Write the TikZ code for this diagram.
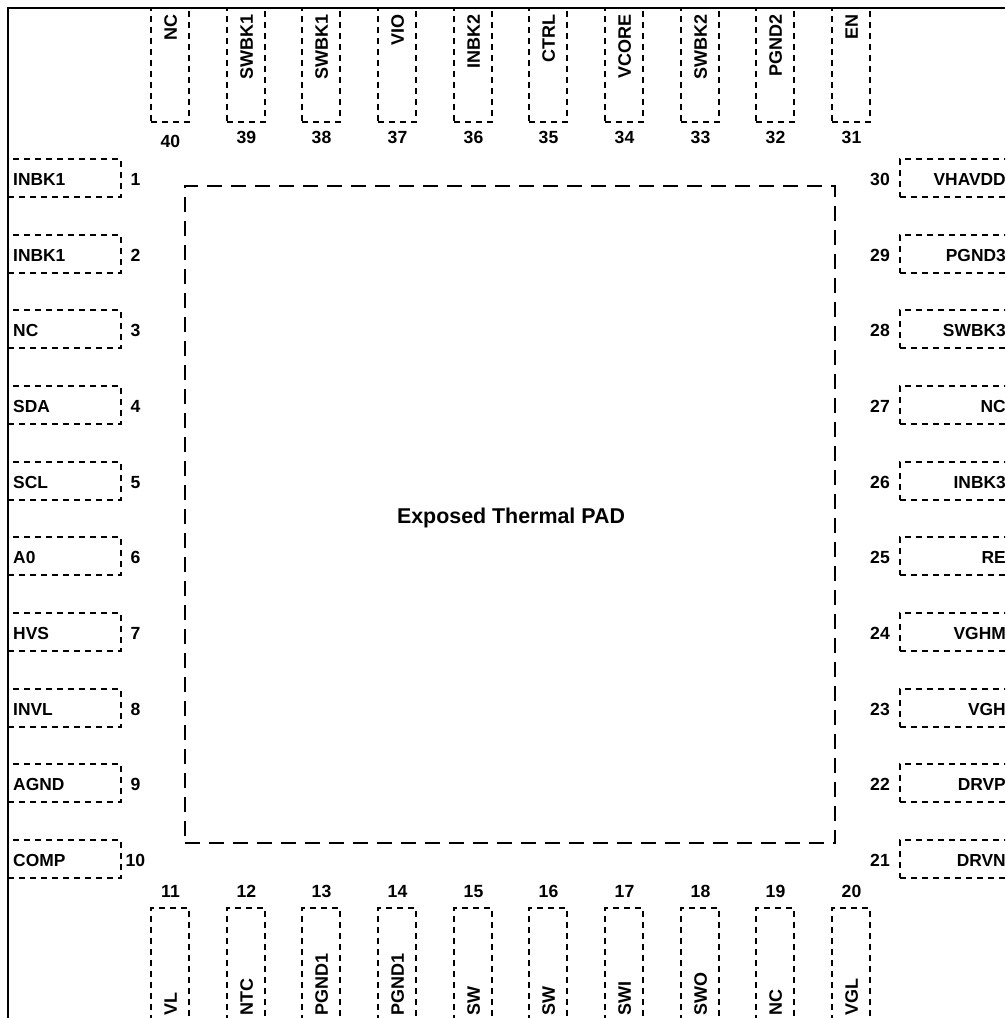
\documentclass[tikz,border=0pt]{standalone}
\usepackage{fontspec}
\setmainfont{Liberation Sans}
\tikzset{
  lab/.style={font=\fontsize{17.4}{20}\selectfont\bfseries,inner sep=0pt,text height=12.4pt,text depth=0pt},
  vlab/.style={font=\fontsize{18}{20}\selectfont\bfseries,inner sep=0pt,text height=12.8pt,text depth=0pt},
  padlab/.style={font=\fontsize{21.4}{24}\selectfont\bfseries,inner sep=0pt,text height=15.3pt,text depth=0pt,anchor=center},
  num/.style={font=\fontsize{17.6}{20}\selectfont\bfseries,inner sep=0pt,text height=12.6pt,text depth=0pt,anchor=center},
  pinbox/.style={draw=black,line width=1.8pt,dash pattern=on 6.2pt off 4.8pt,inner sep=0pt,fill=none},
  hbox/.style={pinbox,minimum width=113pt,minimum height=38pt,outer sep=0pt},
  vbox/.style={pinbox,minimum width=38pt,minimum height=114pt,outer sep=0pt},
  padbox/.style={draw=black,line width=1.8pt,dash pattern=on 15pt off 9pt,inner sep=0pt,outer sep=0pt,minimum width=650pt,minimum height=657pt},
  outer/.style={draw=black,line width=2pt}
}
\begin{document}
\begin{tikzpicture}[x=1pt,y=-1pt]
\useasboundingbox (0,0) rectangle (1005,1018);
\clip (0,0) rectangle (1005,1018);
\fill[white] (0,0) rectangle (1005,1018);
\coordinate (tl) at (8,8);
\coordinate (bl) at (8,1018);
\coordinate (tr) at (1005,8);
\node[padbox] (pad) at (510,514.5) {};
\node[padlab] (padlabel) at (511,516) {Exposed Thermal PAD};
% left pins
\foreach \n/\t [count=\i from 0] in {1/INBK1,2/INBK1,3/NC,4/SDA,5/SCL,6/A0,7/HVS,8/INVL,9/AGND,10/COMP}{
  \pgfmathsetmacro{\yy}{round(178+75.67*\i)}
  \node[hbox] (L\n) at (64.5,\yy) {};
  \node[lab,anchor=west] (Ltext\n) at (13,\yy+1) {\t};
  \node[num] (Lnum\n) at (135.5,\yy+1) {\n};
}
% right pins
\foreach \n/\t [count=\i from 0] in {30/VHAVDD,29/PGND3,28/SWBK3,27/NC,26/INBK3,25/RE,24/VGHM,23/VGH,22/DRVP,21/DRVN}{
  \pgfmathsetmacro{\yy}{round(178+75.67*\i)}
  \node[hbox] (R\n) at (956.5,\yy) {};
  \node[lab,anchor=east] (Rtext\n) at (1006,\yy+1) {\t};
  \node[num] (Rnum\n) at (880,\yy+1) {\n};
}
% top pins
\foreach \n/\t [count=\i from 0] in {40/NC,39/SWBK1,38/SWBK1,37/VIO,36/INBK2,35/CTRL,34/VCORE,33/SWBK2,32/PGND2,31/EN}{
  \pgfmathsetmacro{\xx}{round(170+75.67*\i)}
  \node[vbox] (T\n) at (\xx,65) {};
  \node[vlab,anchor=east,rotate=90] (Ttext\n) at (\xx+0.5,14.5) {\t};
  \node[num] (Tnum\n) at (\xx+0.5,{\n==40 ? 141 : 137}) {\n};
}
% bottom pins
\foreach \n/\t [count=\i from 0] in {11/VL,12/NTC,13/PGND1,14/PGND1,15/SW,16/SW,17/SWI,18/SWO,19/NC,20/VGL}{
  \pgfmathsetmacro{\xx}{round(170+75.67*\i)}
  \node[vbox] (B\n) at (\xx,965) {};
  \node[vlab,anchor=west,rotate=90] (Btext\n) at (\xx+0.5,1016) {\t};
  \node[num] (Bnum\n) at (\xx+0.5,891) {\n};
}
\draw[outer] (bl) -- (tl) -- (tr);
\end{tikzpicture}
\end{document}
